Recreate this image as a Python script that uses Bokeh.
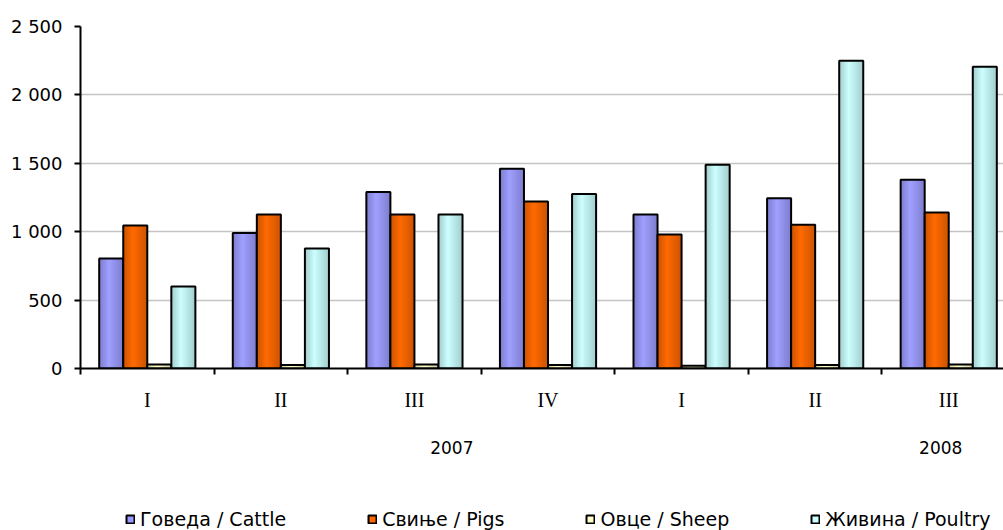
import numpy as np
from bokeh.plotting import figure
from bokeh.layouts import column
from bokeh.models import (ColumnDataSource, Range1d, FixedTicker, LinearAxis,
                          Legend, LegendItem)
from bokeh.embed import file_html
from bokeh.resources import INLINE

# ---- data ----
quarters = ["I", "II", "III", "IV", "I", "II", "III"]
years = ["2007", "2008"]
year_pos = [2.78, 6.44]          # where the year labels sit on the category axis
cattle = [805, 990, 1290, 1460, 1125, 1245, 1380]
pigs = [1045, 1125, 1125, 1220, 980, 1050, 1140]
sheep = [30, 25, 30, 25, 20, 25, 30]
poultry = [600, 877, 1125, 1275, 1490, 2250, 2205]
series_names = ["Говеда / Cattle", "Свиње / Pigs", "Овце / Sheep", "Живина / Poultry"]
y_ticks = [0, 500, 1000, 1500, 2000, 2500]
y_tick_labels = ["0", "500", "1 000", "1 500", "2 000", "2 500"]

# ---- styles ----
light = ["#A0A0FF", "#FF6A00", "#FFFFCC", "#CCFFFF"]
dark = ["#58589A", "#993C00", "#9A9A7A", "#769898"]
main = ["#9999FF", "#FF6600", "#FFFFCC", "#CCFFFF"]
FONT = "DejaVu Sans"

p = figure(width=1003, height=490, output_backend="svg", toolbar_location=None,
           x_range=Range1d(0, 6.91), y_range=Range1d(0, 2500),
           min_border_left=80, min_border_right=0, min_border_top=26,
           min_border_bottom=122)
p.outline_line_color = None
p.background_fill_color = "white"
p.border_fill_color = "white"

# y axis
ya = p.yaxis[0]
ya.ticker = FixedTicker(ticks=y_ticks)
ya.major_label_overrides = {t: l for t, l in zip(y_ticks, y_tick_labels)}
ya.major_label_text_font = FONT
ya.major_label_text_font_size = "18px"
ya.major_label_text_color = "black"
ya.major_tick_out = 6
ya.major_tick_in = 0
ya.minor_tick_line_color = None
ya.axis_line_width = 2
ya.major_tick_line_width = 2
ya.axis_line_color = "black"
ya.major_label_standoff = 12

p.ygrid.grid_line_color = "#C4C4C4"
p.ygrid.grid_line_width = 1.5
p.xgrid.grid_line_color = None

# x axis: quarter labels at centres, boundary ticks as minor ticks
xa = p.xaxis[0]
centers = [i + 0.5 for i in range(len(quarters))]
xa.ticker = FixedTicker(ticks=centers, minor_ticks=list(range(len(quarters) + 1)))
xa.major_label_overrides = {c: q for c, q in zip(centers, quarters)}
xa.major_label_text_font = "Liberation Serif"
xa.major_label_text_font_size = "20px"
xa.major_label_text_color = "black"
xa.major_tick_out = 0
xa.major_tick_in = 0
xa.major_tick_line_color = None
xa.minor_tick_out = 6
xa.minor_tick_in = 0
xa.minor_tick_line_width = 2
xa.minor_tick_line_color = "black"
xa.axis_line_width = 2
xa.axis_line_color = "black"
xa.major_label_standoff = 14

# year axis
ya2 = LinearAxis(ticker=FixedTicker(ticks=year_pos),
                 major_label_overrides={pos: y for pos, y in zip(year_pos, years)})
ya2.axis_line_color = None
ya2.major_tick_line_color = None
ya2.minor_tick_line_color = None
ya2.major_label_text_font = FONT
ya2.major_label_text_font_size = "17px"
ya2.major_label_text_color = "black"
ya2.major_label_standoff = 21
p.add_layout(ya2, "below")

# ---- bars ----
values = [cattle, pigs, sheep, poultry]
w = 0.18
offsets = [-1.5 * w, -0.5 * w, 0.5 * w, 1.5 * w]
N = 14


def profile(t):
    # brightness profile across a bar (Excel-like shading)
    if t < 0.4:
        return 0.5 + 0.5 * (t / 0.4)
    return 1.0 - 0.5 * ((t - 0.4) / 0.6)


def mix(c1, c2, f):
    a = [int(c1[i:i + 2], 16) for i in (1, 3, 5)]
    b = [int(c2[i:i + 2], 16) for i in (1, 3, 5)]
    return "#%02x%02x%02x" % tuple(int(round(x + (y - x) * f)) for x, y in zip(a, b))


xs_base = np.arange(len(quarters)) + 0.5
for k, vals in enumerate(values):
    xc = xs_base + offsets[k]
    src = ColumnDataSource(dict(x=xc, top=vals))
    right = xc + w / 2
    for j in range(N):
        t = (j + 0.5) / N
        col = mix(dark[k], light[k], profile(t))
        left = xc - w / 2 + j * w / N
        p.vbar(x=(left + right) / 2, top=vals, width=w - j * w / N,
               fill_color=col, line_color=None)
    p.vbar(x="x", top="top", width=w, source=src, fill_color=None,
           line_color="black", line_width=2)

# ---- legend strip (separate small figure under the chart) ----
lf = figure(width=1003, height=40, output_backend="svg", toolbar_location=None,
            x_range=Range1d(0, 1), y_range=Range1d(0, 1),
            min_border=0, min_border_left=0, min_border_right=0,
            min_border_top=0, min_border_bottom=0)
lf.axis.visible = False
lf.grid.grid_line_color = None
lf.outline_line_color = None
leg_rs = []
for k in range(4):
    # placeholder glyph with no drawable position: only its legend swatch shows
    r = lf.vbar(x=np.array([np.nan]), top=np.array([np.nan]), width=0.1,
                fill_color=main[k], line_color="black", line_width=2)
    leg_rs.append(r)
lg = Legend(items=[LegendItem(label=series_names[k], renderers=[leg_rs[k]])
                   for k in range(4)],
            location=(45, 0), orientation="horizontal",
            padding=0, margin=0, spacing=81, border_line_color=None,
            background_fill_alpha=0, glyph_width=10, glyph_height=10,
            label_standoff=5, label_text_font=FONT, label_text_font_size="19px",
            label_text_color="black", label_height=14)
lf.add_layout(lg, "center")

layout = column(p, lf, spacing=0)
open("out.html", "w").write(file_html(layout, INLINE))
